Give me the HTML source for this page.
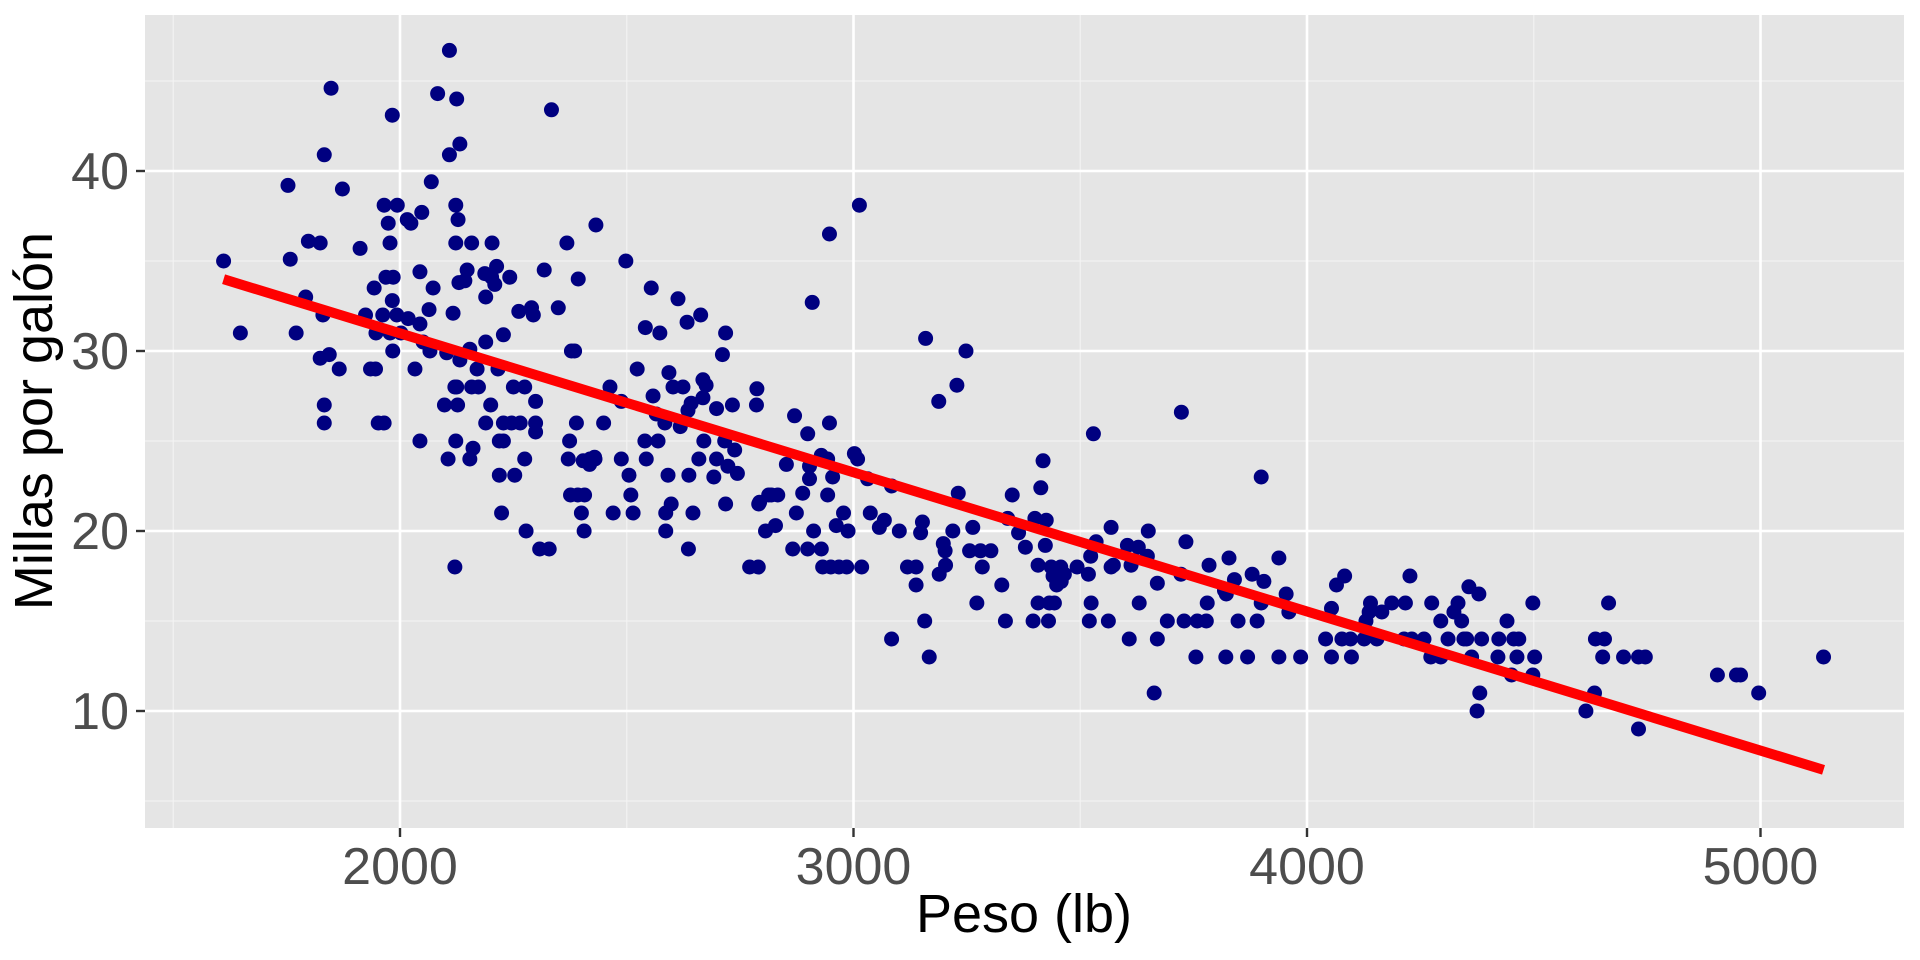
<!DOCTYPE html>
<html><head><meta charset="utf-8"><style>
html,body{margin:0;padding:0;background:#fff;}
svg{display:block;font-family:"Liberation Sans",Arial,sans-serif;}
</style></head><body>
<svg id="chart" width="1920" height="960" viewBox="0 0 1920 960" xmlns="http://www.w3.org/2000/svg">
<rect x="0" y="0" width="1920" height="960" fill="#ffffff"/>
<rect x="145" y="15" width="1759" height="813" fill="#e5e5e5"/>
<g id="grid"></g>
<g id="points"></g>
<g id="fit"></g>
<g id="axes"></g>
<text x="1024" y="932" font-size="54" text-anchor="middle" fill="#000">Peso (lb)</text>
<text transform="translate(52,421) rotate(-90)" font-size="54" text-anchor="middle" fill="#000">Millas por galón</text>
</svg>
<script>
const weights = [1611,1648,1753,1758,1771,1792,1798,1824,1830,1833,1848,1824,1844,1866,1833,1833,1873,1912,1924,1935,1946,1943,1947,1952,1965,1962,1965,1969,1974,1978,1978,1983,1983,1984,1985,1993,1994,2002,2016,2018,2024,2033,2044,2044,2044,2048,2051,2064,2066,2069,2073,2083,2098,2103,2106,2109,2109,2117,2121,2121,2123,2123,2123,2125,2125,2127,2128,2130,2132,2132,2143,2148,2154,2154,2158,2158,2161,2170,2173,2187,2189,2189,2189,2200,2202,2203,2209,2213,2216,2219,2219,2224,2228,2228,2228,2242,2246,2250,2253,2262,2265,2275,2275,2278,2290,2294,2299,2299,2299,2308,2318,2329,2334,2349,2368,2371,2374,2376,2378,2385,2389,2393,2392,2407,2400,2404,2406,2418,2419,2429,2430,2432,2449,2463,2470,2488,2488,2498,2505,2509,2514,2523,2540,2541,2543,2554,2558,2565,2569,2573,2584,2586,2586,2591,2593,2598,2602,2613,2618,2624,2633,2635,2636,2637,2642,2646,2659,2663,2668,2668,2670,2675,2692,2698,2698,2711,2716,2718,2718,2723,2733,2738,2744,2771,2786,2787,2790,2791,2793,2806,2813,2819,2828,2833,2852,2866,2870,2874,2888,2899,2899,2903,2903,2909,2912,2929,2929,2932,2943,2943,2947,2947,2950,2954,2962,2968,2978,2985,2988,3002,3009,3013,3018,3031,3037,3057,3068,3084,3084,3101,3119,3138,3138,3148,3152,3157,3159,3167,3188,3189,3198,3202,3203,3219,3228,3231,3248,3256,3263,3272,3280,3284,3303,3327,3335,3340,3350,3364,3379,3396,3400,3407,3407,3413,3418,3423,3425,3430,3432,3436,3440,3443,3448,3457,3458,3465,3493,3518,3520,3523,3524,3529,3535,3562,3568,3568,3573,3604,3608,3612,3628,3630,3648,3650,3663,3670,3670,3692,3722,3723,3729,3733,3755,3758,3778,3780,3784,3818,3821,3822,3828,3840,3848,3869,3879,3890,3899,3899,3905,3938,3938,3954,3960,3986,4041,4054,4054,4065,4077,4083,4096,4098,4126,4130,4137,4140,4154,4165,4187,4214,4217,4227,4231,4258,4273,4275,4295,4295,4311,4324,4333,4341,4346,4352,4357,4363,4375,4379,4381,4385,4421,4423,4441,4451,4456,4463,4467,4498,4498,4502,4615,4634,4636,4652,4656,4665,4698,4731,4731,4746,4905,4947,4956,4996,5139];
const mpg = [35.0,31.0,39.2,35.1,31.0,33.0,36.1,36.0,32.0,40.9,44.6,29.6,29.8,29.0,27.0,26.0,39.0,35.7,32.0,29.0,29.0,33.5,31.0,26.0,26.0,32.0,38.1,34.1,37.1,36.0,31.0,43.1,32.8,30.0,34.1,32.0,38.1,31.0,37.3,31.8,37.1,29.0,34.4,31.5,25.0,37.7,30.5,32.3,30.0,39.4,33.5,44.3,27.0,29.9,24.0,46.7,40.9,32.1,28.0,18.0,25.0,38.1,36.0,44.0,28.0,27.0,37.3,33.8,41.5,29.5,33.9,34.5,30.1,24.0,36.0,28.0,24.6,29.0,28.0,34.3,33.0,30.5,26.0,27.0,34.1,36.0,33.7,34.7,29.0,25.0,23.1,21.0,30.9,26.0,25.0,34.1,26.0,28.0,23.1,32.2,26.0,28.0,24.0,20.0,32.4,32.0,27.2,26.0,25.5,19.0,34.5,19.0,43.4,32.4,36.0,24.0,25.0,22.0,30.0,30.0,26.0,34.0,22.0,22.0,21.0,23.9,20.0,23.7,24.0,24.1,24.0,37.0,26.0,28.0,21.0,27.2,24.0,35.0,23.1,22.0,21.0,29.0,25.0,31.3,24.0,33.5,27.5,26.5,25.0,31.0,26.0,21.0,20.0,23.1,28.8,21.5,28.0,32.9,25.8,28.0,31.6,26.7,19.0,23.1,27.1,21.0,24.0,32.0,28.4,27.4,25.0,28.1,23.0,26.8,24.0,29.8,25.0,31.0,21.5,23.6,27.0,24.5,23.2,18.0,27.0,27.9,18.0,21.5,21.6,20.0,22.0,22.0,20.3,22.0,23.7,19.0,26.4,21.0,22.1,19.0,25.4,23.6,22.9,32.7,20.0,24.2,19.0,18.0,24.0,22.0,26.0,36.5,18.0,23.0,20.3,18.0,21.0,18.0,20.0,24.3,24.0,38.1,18.0,22.9,21.0,20.2,20.6,22.5,14.0,20.0,18.0,18.0,17.0,19.9,20.5,15.0,30.7,13.0,27.2,17.6,19.3,18.9,18.1,20.0,28.1,22.1,30.0,18.9,20.2,16.0,18.9,18.0,18.9,17.0,15.0,20.7,22.0,19.9,19.1,15.0,20.7,18.1,16.0,22.4,23.9,19.2,20.6,15.0,16.0,18.0,17.5,16.0,17.0,18.0,17.2,17.6,18.0,17.6,15.0,18.6,16.0,25.4,19.4,15.0,20.2,18.0,18.1,19.2,14.0,18.1,19.1,16.0,18.6,20.0,11.0,17.1,14.0,15.0,17.6,26.6,15.0,19.4,13.0,15.0,15.0,16.0,18.1,16.7,13.0,16.5,18.5,17.3,15.0,13.0,17.6,15.0,23.0,16.0,17.2,18.5,13.0,16.5,15.5,13.0,14.0,15.7,13.0,17.0,14.0,17.5,14.0,13.0,14.0,15.0,15.5,16.0,14.0,15.5,16.0,14.0,16.0,17.5,14.0,14.0,13.0,16.0,15.0,13.0,14.0,15.5,16.0,15.0,14.0,14.0,16.9,13.0,10.0,16.5,11.0,14.0,13.0,14.0,15.0,12.0,14.0,13.0,14.0,16.0,12.0,13.0,10.0,11.0,14.0,13.0,14.0,16.0,13.0,13.0,9.0,13.0,12.0,12.0,12.0,11.0,13.0];
const xTicks = [2000,3000,4000,5000];
const xMinor = [1500,2500,3500,4500];
const yTicks = [10,20,30,40];
const yMinor = [5,15,25,35,45];

const NS = "http://www.w3.org/2000/svg";
const PX0 = 145, PX1 = 1904, PY0 = 15, PY1 = 828;
function xScale(w){ return 400 + (w - 2000) * 0.4535; }
function yScale(m){ return 351 - (m - 30) * 18.0; }
function mk(tag, attrs, parent){
  const el = document.createElementNS(NS, tag);
  for (const k in attrs) el.setAttribute(k, attrs[k]);
  parent.appendChild(el);
  return el;
}
const grid = document.getElementById('grid');
xMinor.forEach(v => {
  const l = mk('line', {x1:xScale(v), x2:xScale(v), y1:PY0, y2:PY1, stroke:'#f2f2f2', 'stroke-width':1.3}, grid);
  
  
});
yMinor.forEach(v => {
  const l = mk('line', {x1:PX0, x2:PX1, y1:yScale(v), y2:yScale(v), stroke:'#f2f2f2', 'stroke-width':1.3}, grid);
  
  
});
xTicks.forEach(v => {
  const l = mk('line', {x1:xScale(v), x2:xScale(v), y1:PY0, y2:PY1, stroke:'#ffffff', 'stroke-width':2.6}, grid);
  
  
});
yTicks.forEach(v => {
  const l = mk('line', {x1:PX0, x2:PX1, y1:yScale(v), y2:yScale(v), stroke:'#ffffff', 'stroke-width':2.6}, grid);
  
  
});
const pts = document.getElementById('points');
weights.forEach((w, i) => {
  const c = mk('circle', {cx:xScale(w), cy:yScale(mpg[i]), r:7.5, fill:'#000080'}, pts);
  
  
});
const n = weights.length;
let sx=0, sy=0, sxx=0, sxy=0;
for (let i=0;i<n;i++){ sx+=weights[i]; sy+=mpg[i]; sxx+=weights[i]*weights[i]; sxy+=weights[i]*mpg[i]; }
const slope = (n*sxy - sx*sy)/(n*sxx - sx*sx);
const icpt = (sy - slope*sx)/n;
const wMin = Math.min(...weights), wMax = Math.max(...weights);
const fitLine = mk('line', {x1:xScale(wMin), y1:yScale(icpt+slope*wMin), x2:xScale(wMax), y2:yScale(icpt+slope*wMax), stroke:'#ff0000', 'stroke-width':10}, document.getElementById('fit'));


const axes = document.getElementById('axes');
xTicks.forEach(v => {
  const t = mk('line', {x1:xScale(v), x2:xScale(v), y1:PY1, y2:PY1+9, stroke:'#333333', 'stroke-width':2.4}, axes);
  
  
  const lb = mk('text', {x:xScale(v), y:PY1+56, 'font-size':52, 'text-anchor':'middle', fill:'#4d4d4d'}, axes);
  lb.textContent = String(v);
  
  
});
yTicks.forEach(v => {
  const t = mk('line', {x1:PX0-9, x2:PX0, y1:yScale(v), y2:yScale(v), stroke:'#333333', 'stroke-width':2.4}, axes);
  
  
  const lb = mk('text', {x:PX0-16, y:yScale(v)+18, 'font-size':52, 'text-anchor':'end', fill:'#4d4d4d'}, axes);
  lb.textContent = String(v);
  
  
});
</script>
</body></html>
